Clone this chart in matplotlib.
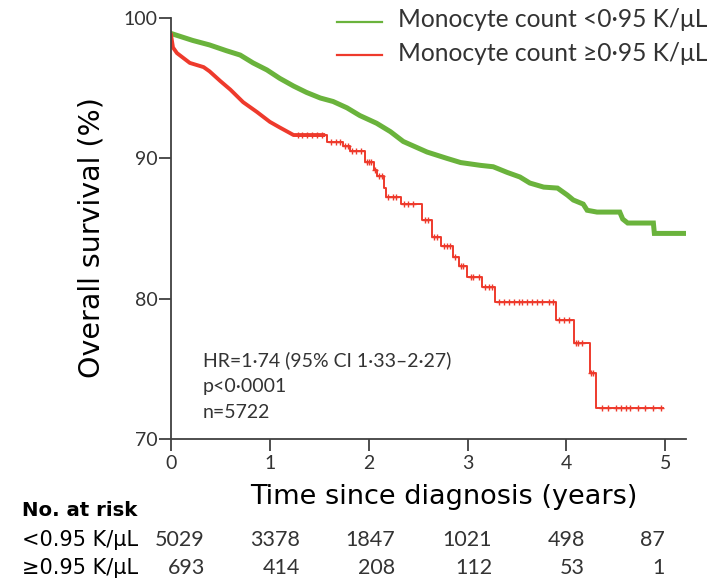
import numpy as np
import matplotlib
matplotlib.use('Agg')
import matplotlib.pyplot as plt
from matplotlib.lines import Line2D

# ---------------- data ----------------
# Green curve: many tiny steps -> traced as a polyline of read points
green_t = [0, 0.22, 0.39, 0.56, 0.70, 0.83, 0.97, 1.10, 1.24, 1.37, 1.51, 1.64, 1.78,
           1.91, 2.08, 2.22, 2.35, 2.59, 2.79, 2.93, 3.13, 3.26, 3.40, 3.53, 3.63,
           3.77, 3.91, 4.01, 4.07, 4.17, 4.21, 4.31, 4.54, 4.57, 4.62, 4.88, 4.89, 5.22]
green_v = [98.9, 98.4, 98.08, 97.67, 97.36, 96.8, 96.3, 95.7, 95.15, 94.7, 94.3, 94.05,
           93.6, 93.05, 92.5, 91.9, 91.2, 90.45, 90.0, 89.7, 89.5, 89.4, 89.0, 88.67,
           88.24, 87.95, 87.88, 87.38, 87.03, 86.74, 86.3, 86.17, 86.17, 85.67, 85.39,
           85.39, 84.65, 84.65]

# Red curve, early part (dense, traced as polyline)
red_early_t = [0, 0.02, 0.06, 0.19, 0.33, 0.39, 0.50, 0.60, 0.73, 0.87, 1.0, 1.10, 1.24,
               1.54]
red_early_v = [98.8, 97.9, 97.5, 96.8, 96.5, 96.2, 95.5, 94.9, 94.0, 93.3, 92.6, 92.2,
               91.66, 91.66]

# Red curve, later part (clear steps)
red_t = [1.24, 1.58, 1.74, 1.81, 1.96, 2.05, 2.08, 2.15, 2.18, 2.33, 2.54, 2.64,
         2.73, 2.85, 2.91, 2.99, 3.15, 3.28, 3.89, 4.08, 4.24, 4.30, 4.98]
red_v = [91.66, 91.15, 90.9, 90.55, 89.76, 89.2, 88.75, 87.9, 87.26, 86.75, 85.6,
         84.4, 83.75, 83.0, 82.3, 81.56, 80.8, 79.78, 78.5, 76.86, 74.7, 72.2, 72.2]

red_censor_t = [1.28, 1.33, 1.38, 1.43, 1.48, 1.53, 1.62, 1.67, 1.71, 1.76, 1.79,
                1.83, 1.87, 1.92, 1.98, 2.00, 2.02, 2.06, 2.10, 2.13, 2.20, 2.25, 2.28,
                2.36, 2.40, 2.45, 2.57, 2.60, 2.66, 2.69, 2.76, 2.79, 2.82, 2.87, 2.93,
                2.95, 3.03, 3.06, 3.12, 3.18, 3.22, 3.25, 3.32, 3.37, 3.42, 3.47, 3.52,
                3.55, 3.60, 3.65, 3.70, 3.75, 3.82, 3.86, 3.93, 3.98, 4.03, 4.10, 4.12,
                4.16, 4.25, 4.27, 4.36, 4.42, 4.50, 4.55, 4.60, 4.64, 4.72, 4.80, 4.88,
                4.96]

xticks = [0, 1, 2, 3, 4, 5]
yticks = [70, 80, 90, 100]

legend_labels = ['Monocyte count <0·95 K/μL', 'Monocyte count ≥0·95 K/μL']
annot_lines = ['HR=1·74 (95% CI 1·33–2·27)', 'p<0·0001', 'n=5722']

risk_title = 'No. at risk'
risk_labels = ['<0.95 K/μL', '≥0.95 K/μL']
risk_low = [5029, 3378, 1847, 1021, 498, 87]
risk_high = [693, 414, 208, 112, 53, 1]

# ---------------- style ----------------
GREEN = '#6ab33c'
RED = '#ee3a2c'
TXT = '#333333'
AX = '#404040'
FONT = ['Lato', 'DejaVu Sans']

W, H = 728, 586
fig = plt.figure(figsize=(W / 100, H / 100), dpi=100)


def fx(px):
    return px / W


def fy(py):
    return 1 - py / H


ax = fig.add_axes([fx(171), fy(439), fx(686) - fx(171), fy(18) - fy(439)])

# green curve (dense censoring -> thick)
ax.plot(green_t, green_v, color=GREEN, lw=3.6, solid_joinstyle='miter')

# red curve
ax.plot(red_early_t, red_early_v, color=RED, lw=2.8)
rt = np.array(red_t)
rv = np.array(red_v)
ax.step(rt, rv, where='post', color=RED, lw=1.4)
ct = np.array(red_censor_t)
idx = np.searchsorted(rt, ct, side='right') - 1
ax.plot(ct, rv[idx], ls='none', marker='+', ms=5, mew=1.0, color=RED)

ax.set_xlim(0, 5.21)
ax.set_ylim(70, 100)
ax.set_xticks(xticks)
ax.set_yticks(yticks)
for s in ['top', 'right']:
    ax.spines[s].set_visible(False)
for s in ['left', 'bottom']:
    ax.spines[s].set_color(AX)
    ax.spines[s].set_linewidth(1.3)
ax.tick_params(axis='both', colors=AX, width=1.3, length=8.5, labelcolor=TXT)
ax.tick_params(axis='y', pad=1)
ax.tick_params(axis='x', pad=3)
for lab in ax.get_xticklabels() + ax.get_yticklabels():
    lab.set_family(FONT)
    lab.set_fontsize(14)

# axis labels
fig.text(fx(92), fy(238), 'Overall survival (%)', rotation=90, ha='center', va='center',
         fontsize=20.5, color='black', family='DejaVu Sans')
fig.text(fx(444), fy(497), 'Time since diagnosis (years)', ha='center', va='center',
         fontsize=19.5, color='black', family='DejaVu Sans')

# legend (drawn as key lines + labels)
leg_line_y = [22, 55]
leg_base_y = [27, 61]
for ly, by, col, lab in zip(leg_line_y, leg_base_y, [GREEN, RED], legend_labels):
    fig.add_artist(Line2D([fx(337), fx(382)], [fy(ly), fy(ly)], color=col, lw=1.6,
                          transform=fig.transFigure))
    fig.text(fx(398), fy(by), lab, ha='left', va='baseline', fontsize=17.7,
             color=TXT, family=FONT)

# annotation
for by, ln in zip([366, 392, 418], annot_lines):
    fig.text(fx(203), fy(by), ln, ha='left', va='baseline', fontsize=14.0,
             color=TXT, family=FONT)

# risk table
fig.text(fx(22), fy(511), risk_title, ha='left', va='center', fontsize=14.2,
         fontweight='bold', color='black', family='DejaVu Sans')
row_y = [540, 568]
num_x = [205, 300, 395, 492, 585, 665]
for ry, lab, vals in zip(row_y, risk_labels, [risk_low, risk_high]):
    fig.text(fx(22), fy(ry), lab, ha='left', va='center', fontsize=15,
             color='black', family='DejaVu Sans')
    for xp, v in zip(num_x, vals):
        fig.text(fx(xp), fy(ry), str(v), ha='right', va='center', fontsize=15.5,
                 color=TXT, family=FONT)

fig.savefig('out.png', dpi=100)
